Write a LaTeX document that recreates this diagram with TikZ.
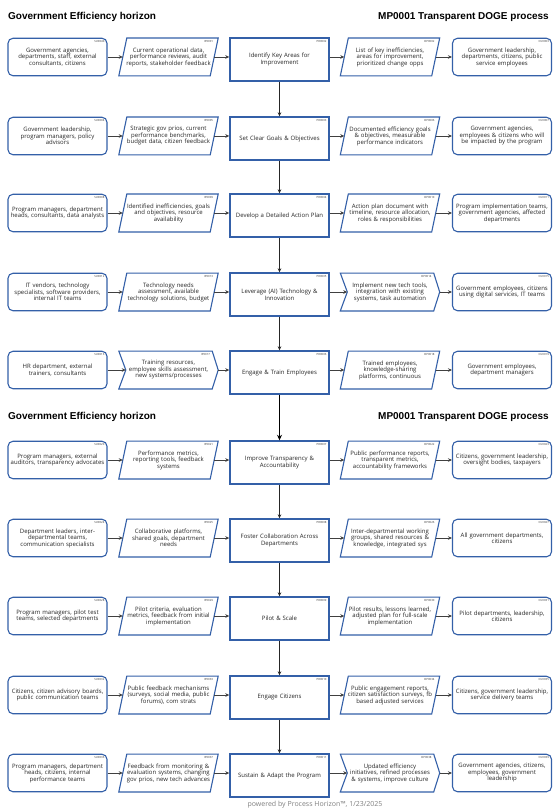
\documentclass[tikz,border=0pt]{standalone}
\usepackage{fontspec}
\setmainfont{Open Sans}
\newfontfamily\titlefont{Liberation Sans}
\usetikzlibrary{arrows.meta,calc}
\definecolor{bord}{RGB}{52,96,168}
\definecolor{arr}{RGB}{64,64,64}
\definecolor{foot}{RGB}{128,128,128}
\tikzset{
 txt/.style={font=\fontsize{6}{6.5}\selectfont, align=center, text=black!85},
 sup/.style={txt, draw=bord, line width=1.1pt, rounded corners=5pt, minimum width=99pt, minimum height=37.5pt, inner sep=0pt, text width=97pt},
 prc/.style={txt, draw=bord, line width=1.4pt, minimum width=99pt, minimum height=43pt, inner sep=0pt, text width=95pt},
 pbox/.style={txt, minimum width=99pt, minimum height=37.5pt, inner sep=0pt, text width=97pt},
 bline/.style={draw=bord, line width=1.1pt, line join=miter},
 idl/.style={font=\fontsize{2.8}{3}\selectfont, anchor=north east, inner sep=0pt, text=black!80},
 harr/.style={draw=arr, line width=0.8pt, -{Stealth[length=4pt,width=3.6pt]}},
 varr/.style={draw=black!85, line width=0.7pt, -{Stealth[length=4pt,width=3.6pt]}},
 vthick/.style={draw=black, line width=1.4pt, -{Stealth[length=5.5pt,width=5pt]}},
 ttl/.style={font=\titlefont\bfseries\fontsize{10}{12}\selectfont, inner sep=0pt},
}
\newcommand\rbox[5]{\node[sup] (#1) at (#2,#3) {#5};
 \node[idl] at ($(#1.north east)+(-3,2.5)$) {#4};}
\newcommand\pbx[5]{\node[prc] (#1) at (#2,#3) {#5};
 \node[idl] at ($(#1.north east)+(-3,2.5)$) {#4};}
\newcommand\pgram[5]{\node[pbox] (#1) at (#2,#3) {#5};
 \draw[bline] (#1.south west) -- ($(#1.north west)+(8,0)$) -- (#1.north east) -- ($(#1.south east)+(-8,0)$) -- cycle;
 \coordinate (#1-in) at ($(#1.west)+(4,0)$);
 \coordinate (#1-out) at ($(#1.east)+(-4,0)$);
 \node[idl] at ($(#1.north east)+(-5,2.5)$) {#4};}
\newcommand\chev[5]{\node[pbox] (#1) at (#2,#3) {#5};
 \draw[bline] (#1.north west) -- ($(#1.north east)+(-6,0)$) -- (#1.east) -- ($(#1.south east)+(-6,0)$) -- (#1.south west) -- ($(#1.west)+(7,0)$) -- cycle;
 \coordinate (#1-in) at ($(#1.west)+(7,0)$);
 \coordinate (#1-out) at (#1.east);
 \node[idl] at ($(#1.north east)+(-8,2.5)$) {#4};}
\begin{document}
\begin{tikzpicture}[x=1pt,y=-1pt]
\fill[white] (0,0) rectangle (557,810);
\useasboundingbox (0,0) rectangle (557,810);
% titles
\node[ttl, anchor=base west] (ta) at (8,19.5) {Government Efficiency horizon};
\node[ttl, anchor=base east] (tb) at (549,19.5) {MP0001 Transparent DOGE process};
\node[ttl, anchor=base west] (tc) at (8,419.5) {Government Efficiency horizon};
\node[ttl, anchor=base east] (td) at (549,419.5) {MP0001 Transparent DOGE process};
% row 1
\rbox{s1}{57.5}{57}{SU0040}{Government agencies,\\ departments, staff, external\\ consultants, citizens}
\pgram{i1}{168.5}{57}{IP0001}{Current operational data,\\ performance reviews, audit\\ reports, stakeholder feedback}
\pbx{p1}{279.5}{59.5}{PR0002}{Identify Key Areas for\\ Improvement}
\pgram{o1}{390}{57}{OP0002}{List of key inefficiencies,\\ areas for improvement,\\ prioritized change opps}
\rbox{c1}{502}{57}{CU0003}{Government leadership,\\ departments, citizens, public\\ service employees}
% row 2
\rbox{s2}{57.5}{136}{SU0004}{Government leadership,\\ program managers, policy\\ advisors}
\pgram{i2}{168.5}{136}{IP0005}{Strategic gov prios, current\\ performance benchmarks,\\ budget data, citizen feedback}
\pbx{p2}{279.5}{138.5}{PR0003}{Set Clear Goals \& Objectives}
\pgram{o2}{390}{136}{OP0006}{Documented efficiency goals\\ \& objectives, measurable\\ performance indicators}
\rbox{c2}{502}{136}{CU0007}{Government agencies,\\ employees \& citizens who will\\ be impacted by the program}
% row 3
\rbox{s3}{57.5}{213}{SU0008}{Program managers, department\\ heads, consultants, data analysts}
\pgram{i3}{168.5}{213}{IP0009}{Identified inefficiencies, goals\\ and objectives, resource\\ availability}
\pbx{p3}{279.5}{215.5}{PR0004}{Develop a Detailed Action Plan}
\pgram{o3}{390}{213}{OP0010}{Action plan document with\\ timeline, resource allocation,\\ roles \& responsibilities}
\rbox{c3}{502}{213}{CU0011}{Program implementation teams,\\ government agencies, affected\\ departments}
% row 4
\rbox{s4}{57.5}{292}{SU0012}{IT vendors, technology\\ specialists, software providers,\\ internal IT teams}
\pgram{i4}{168.5}{292}{IP0013}{Technology needs\\ assessment, available\\ technology solutions, budget}
\pbx{p4}{279.5}{294.5}{PR0005}{Leverage (AI) Technology \&\\ Innovation}
\chev{o4}{390}{292}{OP0014}{Implement new tech tools,\\ integration with existing\\ systems, task automation}
\rbox{c4}{502}{292}{CU0015}{Government employees, citizens\\ using digital services, IT teams}
% row 5
\rbox{s5}{57.5}{370}{SU0016}{HR department, external\\ trainers, consultants}
\chev{i5}{168.5}{370}{IP0017}{Training resources,\\ employee skills assessment,\\ new systems/processes}
\pbx{p5}{279.5}{372.5}{PR0006}{Engage \& Train Employees}
\pgram{o5}{390}{370}{OP0018}{Trained employees,\\ knowledge-sharing\\ platforms, continuous}
\rbox{c5}{502}{370}{CU0019}{Government employees,\\ department managers}
% row 6
\rbox{s6}{57.5}{460}{SU0020}{Program managers, external\\ auditors, transparency advocates}
\pgram{i6}{168.5}{460}{IP0021}{Performance metrics,\\ reporting tools, feedback\\ systems}
\pbx{p6}{279.5}{462.5}{PR0007}{Improve Transparency \&\\ Accountability}
\pgram{o6}{390}{460}{OP0022}{Public performance reports,\\ transparent metrics,\\ accountability frameworks}
\rbox{c6}{502}{460}{CU0023}{Citizens, government leadership,\\ oversight bodies, taxpayers}
% row 7
\rbox{s7}{57.5}{538}{SU0024}{Department leaders, inter-\\ departmental teams,\\ communication specialists}
\pgram{i7}{168.5}{538}{IP0025}{Collaborative platforms,\\ shared goals, department\\ needs}
\pbx{p7}{279.5}{540.5}{PR0008}{Foster Collaboration Across\\ Departments}
\pgram{o7}{390}{538}{OP0026}{Inter-departmental working\\ groups, shared resources \&\\ knowledge, integrated sys}
\rbox{c7}{502}{538}{CU0027}{All government departments,\\ citizens}
% row 8
\rbox{s8}{57.5}{616}{SU0028}{Program managers, pilot test\\ teams, selected departments}
\pgram{i8}{168.5}{616}{IP0029}{Pilot criteria, evaluation\\ metrics, feedback from initial\\ implementation}
\pbx{p8}{279.5}{618.5}{PR0009}{Pilot \& Scale}
\pgram{o8}{390}{616}{OP0030}{Pilot results, lessons learned,\\ adjusted plan for full-scale\\ implementation}
\rbox{c8}{502}{616}{CU0031}{Pilot departments, leadership,\\ citizens}
% row 9
\rbox{s9}{57.5}{695}{SU0032}{Citizens, citizen advisory boards,\\ public communication teams}
\pgram{i9}{168.5}{695}{IP0033}{Public feedback mechanisms\\ (surveys, social media, public\\ forums), com strats}
\pbx{p9}{279.5}{697.5}{PR0010}{Engage Citizens}
\pgram{o9}{390}{695}{OP0034}{Public engagement reports,\\ citizen satisfaction surveys, fb\\ based adjusted services}
\rbox{c9}{502}{695}{CU0035}{Citizens, government leadership,\\ service delivery teams}
% row 10
\rbox{s10}{57.5}{773}{SU0036}{Program managers, department\\ heads, citizens, internal\\ performance teams}
\pgram{i10}{168.5}{773}{IP0037}{Feedback from monitoring \&\\ evaluation systems, changing\\ gov prios, new tech advances}
\pbx{p10}{279.5}{775.5}{PR0011}{Sustain \& Adapt the Program}
\chev{o10}{390}{773}{OP0038}{Updated efficiency\\ initiatives, refined processes\\ \& systems, improve culture}
\rbox{c10}{502}{773}{CU0039}{Government agencies, citizens,\\ employees, government\\ leadership}
% horizontal connectors
\foreach \k in {1,...,10} {
 \draw[harr] (s\k.east) -- (i\k-in);
 \draw[harr] (i\k-out) -- (i\k-out -| p\k.west);
 \draw[harr] (p\k.east |- o\k-in) -- (o\k-in);
 \draw[harr] (o\k-out) -- (c\k.west);
}
% vertical connectors
\foreach \k/\n in {1/2,2/3,3/4,4/5,6/7,7/8,8/9,9/10} {
 \draw[varr] (p\k.south) -- (p\n.north);
}
\draw[vthick] (p5.south) -- (p6.north);
% footer
\node[anchor=base, text=foot, font=\fontsize{7}{8}\selectfont, inner sep=0pt] (ft) at (315,806) {powered by Process Horizon™, 1/23/2025};
\end{tikzpicture}
\end{document}
